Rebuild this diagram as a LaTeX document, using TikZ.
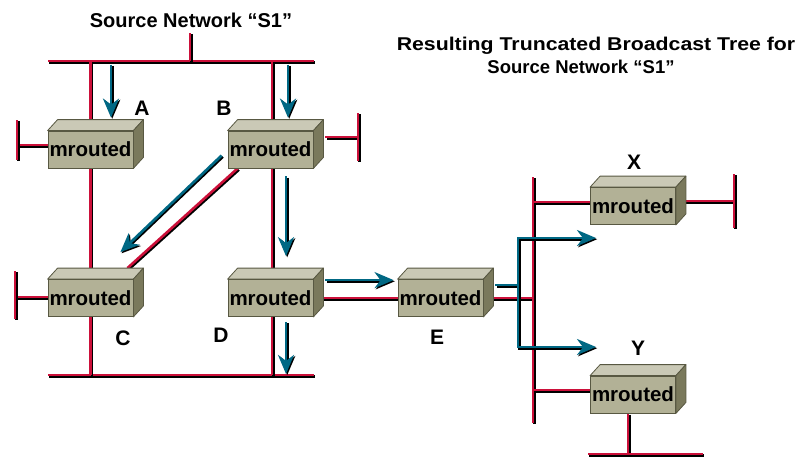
\documentclass[tikz,border=0pt]{standalone}
\usepackage{fontspec}
\setmainfont{Liberation Sans}
\usepackage{tikz}
\usetikzlibrary{arrows.meta}
\usetikzlibrary{backgrounds}
\definecolor{netred}{RGB}{204, 16, 58}
\definecolor{flowblue}{RGB}{0, 104, 132}
\definecolor{boxfront}{RGB}{178, 177, 150}
\definecolor{boxtop}{RGB}{202, 201, 182}
\definecolor{boxside}{RGB}{122, 121, 92}
\definecolor{boxedge}{RGB}{88, 88, 66}

\tikzset{
  net/.style={draw=netred, line width=2.6pt,
    preaction={draw=black, line width=2.6pt, transform canvas={shift={(1.3pt,-1.3pt)}}}},
  flow/.style={draw=flowblue, line width=2.7pt, -{Stealth[length=19pt,width=16pt,inset=6pt]},
    preaction={draw=black, line width=2.7pt, transform canvas={shift={(1.2pt,-1.2pt)}}}},
  router/.style={draw=boxedge, fill=boxfront, line width=0.8pt, minimum width=85pt,
    minimum height=37pt, inner sep=0pt, font=\fontsize{20.5}{22}\selectfont\bfseries},
  boxtopface/.style={draw=boxedge, fill=boxtop, line width=0.8pt, line join=round},
  boxsideface/.style={draw=boxedge, fill=boxside, line width=0.8pt, line join=round},
  tag/.style={font=\fontsize{21}{24}\selectfont\bfseries},
  heading/.style={font=\fontsize{18.5}{21}\selectfont\bfseries}
}

\begin{document}
\begin{tikzpicture}[x=1pt,y=-1pt]
  \useasboundingbox (0,0) rectangle (797,456);

  % routers
  \node[router] (A) at (90.5,149.5) {mrouted};
  \node[router] (B) at (270.5,149.5) {mrouted};
  \node[router] (C) at (90.5,298) {mrouted};
  \node[router] (D) at (270.5,298) {mrouted};
  \node[router] (E) at (440.5,298) {mrouted};
  \node[router] (X) at (633,206) {mrouted};
  \node[router] (Y) at (633,394.5) {mrouted};

  % bus end points
  \coordinate (s1l) at (48,61);
  \coordinate (s1r) at (314,61);
  \coordinate (s1up) at (190,33);
  \coordinate (botl) at (48,375);
  \coordinate (botr) at (314,375);
  \coordinate (tA) at (17,145);
  \coordinate (tB) at (358,137);
  \coordinate (tC) at (15,297);
  \coordinate (rbt) at (533,177);
  \coordinate (rbb) at (533,423);
  \coordinate (tX) at (734,201);
  \coordinate (ybl) at (588,454);
  \coordinate (ybr) at (703,454);

  \begin{scope}[on background layer]
    % networks
    \draw[net] (s1l) -- (s1r);
    \draw[net] (s1up) -- (s1up |- s1l);
    \draw[net] (botl) -- (botr);
    \draw[net] (s1l -| A.north) -- (botl -| A.north);
    \draw[net] ([xshift=1.5pt]s1l -| B.north) -- ([xshift=1.5pt]botl -| B.north);
    \draw[net] (A.west |- tA) -- (tA);
    \draw[net] ([yshift=25pt]tA) -- ([yshift=-15pt]tA);
    \draw[net] ([xshift=12pt]B.east |- tB) -- (tB);
    \draw[net] ([yshift=24pt]tB) -- ([yshift=-24pt]tB);
    \draw[net] (C.west |- tC) -- (tC);
    \draw[net] ([yshift=26pt]tC) -- ([yshift=-22pt]tC);
    \draw[net] ([xshift=10pt]B.south west) -- ([shift={(-6pt,11pt)}]C.north east);
    \draw[net] (D.east) -- (E.east);
    \draw[net] (E.east) -- (E.east -| rbt);
    \draw[net] (rbt) -- (rbb);
    \draw[net] ([yshift=4pt]X.west -| rbt) -- ([yshift=4pt]X.west);
    \draw[net] ([yshift=5pt]X.east) -- ([yshift=5pt]X.east -| tX);
    \draw[net] ([yshift=27pt]tX) -- ([yshift=-27pt]tX);
    \draw[net] ([yshift=4.5pt]Y.west -| rbt) -- ([yshift=4.5pt]Y.west);
    \draw[net] ([xshift=-5pt]Y.south) -- ([xshift=-5pt]Y.south |- ybl);
    \draw[net] (ybl) -- (ybr);
    % box faces
    \foreach \r in {A,B,C,D,E,X,Y} {
      \filldraw[boxtopface] (\r.north west) -- ++(10,-11)
        -- ([shift={(10pt,11pt)}]\r.north east) -- (\r.north east) -- cycle;
      \filldraw[boxsideface] (\r.north east) -- ++(10,-11)
        -- ([shift={(10pt,11pt)}]\r.south east) -- (\r.south east) -- cycle;
    }
  \end{scope}

  % forwarding
  \draw[flow] ([shift={(20.5pt,66pt)}]A.north) -- ([shift={(20.5pt,13pt)}]A.north);
  \draw[flow] ([shift={(17.5pt,66pt)}]B.north) -- ([shift={(17.5pt,13pt)}]B.north);
  \draw[flow] ([xshift=-6pt,yshift=-6pt]B.west) -- ([shift={(-13pt,27pt)}]C.north east);
  \draw[flow] ([shift={(15.5pt,-8pt)}]B.south) -- ([shift={(15.5pt,23pt)}]D.north);
  \draw[flow] ([shift={(15.5pt,-5pt)}]D.south) -- ([shift={(15.5pt,-57pt)}]D.south);
  \draw[flow] ([shift={(12pt,-1pt)}]D.north east) -- ([shift={(-4pt,-1pt)}]E.north west);
  \coordinate (fork) at (518,285);
  \draw[flow] ([xshift=12pt]E.east |- fork) -- (fork) |- (596,238);
  \draw[flow] (fork) |- (596,347);

  % labels
  \node[tag] (lA) at (142,108) {A};
  \node[tag] (lB) at (224,108) {B};
  \node[tag] (lC) at (123,338) {C};
  \node[tag] (lD) at (221,335) {D};
  \node[tag] (lE) at (437,337) {E};
  \node[tag] (lX) at (634,162) {X};
  \node[tag] (lY) at (638,348) {Y};

  \node[heading, font=\fontsize{20}{22}\selectfont\bfseries] (src) at (191,20) {Source Network “S1”};
  \node[heading] (res1) at (596,46) {\scalebox{1.15}[1]{Resulting Truncated Broadcast Tree for}};
  \node[heading] (res2) at (581,67) {Source Network “S1”};
\end{tikzpicture}
\end{document}
